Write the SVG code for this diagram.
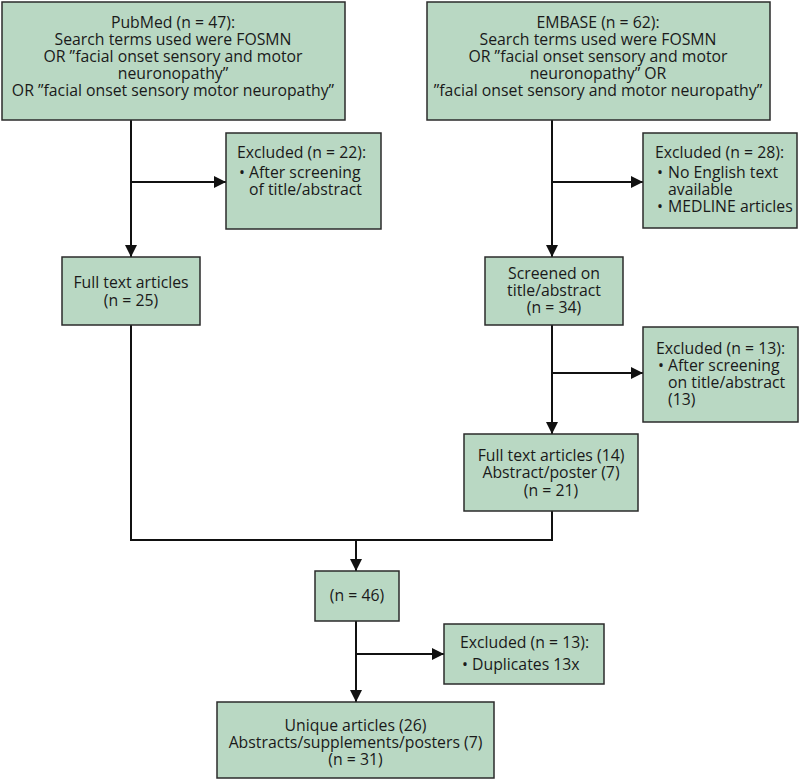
<svg xmlns="http://www.w3.org/2000/svg" width="800" height="781" viewBox="0 0 800 781">
<style>
.box{fill:#b9d8c3;stroke:#2b2b2b;stroke-width:1.5}
.t{font-family:"Open Sans","Noto Sans","Liberation Sans",sans-serif;font-size:15.8px;fill:#1a1a1a}
.c{text-anchor:middle}
.ln{fill:none;stroke:#111;stroke-width:2}
</style>
<defs>
<marker id="ah" markerUnits="userSpaceOnUse" markerWidth="12" markerHeight="12" viewBox="0 0 10 10" refX="10" refY="5" orient="auto">
<path d="M0,0 L10,5 L0,10 Z" fill="#111"/>
</marker>
</defs>
<rect width="800" height="781" fill="#fff"/>
<g id="connectors">
<line class="ln" x1="131" y1="120" x2="131" y2="257" marker-end="url(#ah)"/>
<line class="ln" x1="131" y1="182" x2="226" y2="182" marker-end="url(#ah)"/>
<line class="ln" x1="552" y1="120" x2="552" y2="257" marker-end="url(#ah)"/>
<line class="ln" x1="552" y1="182" x2="643" y2="182" marker-end="url(#ah)"/>
<line class="ln" x1="552" y1="325" x2="552" y2="434" marker-end="url(#ah)"/>
<line class="ln" x1="552" y1="373" x2="643" y2="373" marker-end="url(#ah)"/>
<path class="ln" d="M131,325 V540 H552 V511"/>
<line class="ln" x1="356" y1="540" x2="356" y2="571" marker-end="url(#ah)"/>
<line class="ln" x1="356" y1="621" x2="356" y2="702" marker-end="url(#ah)"/>
<line class="ln" x1="356" y1="654" x2="444" y2="654" marker-end="url(#ah)"/>
</g>
<g id="pubmed">
<rect class="box" x="2" y="2" width="343" height="118"/>
<text class="t c" x="173" y="28">PubMed (n = 47):</text>
<text class="t c" x="173" y="45">Search terms used were FOSMN</text>
<text class="t c" x="173" y="62">OR ”facial onset sensory and motor</text>
<text class="t c" x="173" y="79">neuronopathy”</text>
<text class="t c" x="173" y="96">OR ”facial onset sensory motor neuropathy”</text>
</g>
<g id="embase">
<rect class="box" x="427" y="2" width="343" height="118"/>
<text class="t c" x="598" y="28">EMBASE (n = 62):</text>
<text class="t c" x="598" y="45">Search terms used were FOSMN</text>
<text class="t c" x="598" y="62">OR ”facial onset sensory and motor</text>
<text class="t c" x="598" y="79">neuronopathy” OR</text>
<text class="t c" x="598" y="96">”facial onset sensory and motor neuropathy”</text>
</g>
<g id="excl22">
<rect class="box" x="226" y="133" width="155" height="96"/>
<text class="t" x="237" y="158">Excluded (n = 22):</text>
<text class="t" x="239" y="178">•</text>
<text class="t" x="249" y="178">After screening</text>
<text class="t" x="249" y="195">of title/abstract</text>
</g>
<g id="excl28">
<rect class="box" x="643" y="133" width="154" height="95"/>
<text class="t" x="655" y="158">Excluded (n = 28):</text>
<text class="t" x="657" y="178">•</text>
<text class="t" x="668" y="178">No English text</text>
<text class="t" x="668" y="195">available</text>
<text class="t" x="657" y="212">•</text>
<text class="t" x="668" y="212">MEDLINE articles</text>
</g>
<g id="fulltext25">
<rect class="box" x="62" y="257" width="138" height="68"/>
<text class="t c" x="131" y="288">Full text articles</text>
<text class="t c" x="131" y="306">(n = 25)</text>
</g>
<g id="screened">
<rect class="box" x="485" y="257" width="138" height="68"/>
<text class="t c" x="554" y="279">Screened on</text>
<text class="t c" x="554" y="296">title/abstract</text>
<text class="t c" x="554" y="313">(n = 34)</text>
</g>
<g id="excl13a">
<rect class="box" x="643" y="327" width="155" height="95"/>
<text class="t" x="656" y="354">Excluded (n = 13):</text>
<text class="t" x="658" y="371">•</text>
<text class="t" x="668" y="371">After screening</text>
<text class="t" x="668" y="388">on title/abstract</text>
<text class="t" x="668" y="405">(13)</text>
</g>
<g id="fulltext21">
<rect class="box" x="464" y="434" width="174" height="77"/>
<text class="t c" x="551" y="461">Full text articles (14)</text>
<text class="t c" x="551" y="478">Abstract/poster (7)</text>
<text class="t c" x="551" y="496">(n = 21)</text>
</g>
<g id="n46">
<rect class="box" x="315" y="571" width="84" height="50"/>
<text class="t c" x="357" y="601">(n = 46)</text>
</g>
<g id="excl13b">
<rect class="box" x="444" y="624" width="160" height="60"/>
<text class="t" x="460" y="648">Excluded (n = 13):</text>
<text class="t" x="462" y="670">•</text>
<text class="t" x="472" y="670">Duplicates 13x</text>
</g>
<g id="unique">
<rect class="box" x="217" y="702" width="277" height="76"/>
<text class="t c" x="355.5" y="731">Unique articles (26)</text>
<text class="t c" x="355.5" y="748">Abstracts/supplements/posters (7)</text>
<text class="t c" x="355.5" y="765">(n = 31)</text>
</g>
</svg>
